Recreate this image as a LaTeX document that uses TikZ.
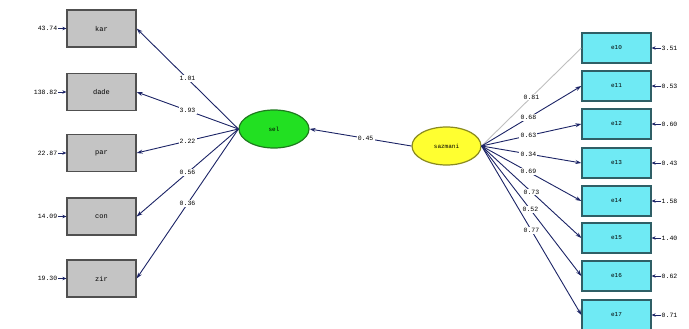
\documentclass[tikz,border=0pt]{standalone}
\usepackage{fontspec}
\setmonofont{Liberation Mono}
\usetikzlibrary{arrows.meta,shapes.geometric}
\definecolor{pathc}{HTML}{1C2466}
\definecolor{boxgrey}{HTML}{C4C4C4}
\definecolor{boxedge}{HTML}{505050}
\definecolor{cyanbox}{HTML}{6FEAF4}
\definecolor{cyanedge}{HTML}{2F5F66}
\definecolor{greenf}{HTML}{22E022}
\definecolor{greene}{HTML}{1E7A1E}
\definecolor{yellowf}{HTML}{FFFF30}
\definecolor{yellowe}{HTML}{8A8A20}
\tikzset{
  txt/.style={font=\ttfamily\fontsize{6.5}{7.5}\selectfont, inner sep=0.5pt},
  obsl/.style={draw=boxedge, fill=boxgrey, line width=1.3pt, minimum width=69pt, minimum height=37pt, font=\ttfamily\fontsize{7}{8}\selectfont},
  obsr/.style={draw=cyanedge, fill=cyanbox, line width=1.3pt, minimum width=69pt, minimum height=30pt, font=\ttfamily\fontsize{6}{7}\selectfont},
  latg/.style={ellipse, draw=greene, fill=greenf, line width=1.2pt, minimum width=70pt, minimum height=38pt, inner sep=0pt, font=\ttfamily\fontsize{6}{7}\selectfont},
  laty/.style={ellipse, draw=yellowe, fill=yellowf, line width=1.2pt, minimum width=69pt, minimum height=38pt, inner sep=0pt, font=\ttfamily\fontsize{6}{7}\selectfont},
  path/.style={draw=pathc, line width=0.9pt, -{Stealth[length=6pt,width=4pt]}},
  fadepath/.style={draw=black!25, line width=0.9pt},
  errarrow/.style={draw=pathc, line width=0.8pt, -{Stealth[length=4pt,width=3.5pt]}},
  lab/.style={txt, fill=white, inner sep=1.2pt}
}
\begin{document}
\begin{tikzpicture}[x=1pt,y=-1pt]
\useasboundingbox (0,0) rectangle (689,329);
% left observed
\node[obsl] (kar) at (101.5,28.5) {kar};
\node[obsl] (dade) at (101.5,92) {dade};
\node[obsl] (par) at (101.5,153) {par};
\node[obsl] (con) at (101.5,216.5) {con};
\node[obsl] (zir) at (101.5,278.5) {zir};
% error values left
\node[txt, anchor=east] (ekar) at (58,28.5) {43.74};
\node[txt, anchor=east] (edade) at (58,92) {138.82};
\node[txt, anchor=east] (epar) at (58,153) {22.87};
\node[txt, anchor=east] (econ) at (58,216.5) {14.09};
\node[txt, anchor=east] (ezir) at (58,278.5) {19.30};
\foreach \n in {kar,dade,par,con,zir}{\draw[errarrow] (e\n.east) -- (\n.west);}
% latents
\node[latg] (sel) at (274,129) {sel};
\node[laty] (saz) at (446.5,146) {sazmani};
\draw[path] (saz.west) -- node[lab, pos=0.45] {0.45} (sel.east);
% left loadings
\draw[path] (sel.west) -- node[lab,pos=0.5] {1.01} (kar.east);
\draw[path] (sel.west) -- node[lab,pos=0.5] {3.93} (dade.east);
\draw[path] (sel.west) -- node[lab,pos=0.5] {2.22} (par.east);
\draw[path] (sel.west) -- node[lab,pos=0.5] {0.56} (con.east);
\draw[path] (sel.west) -- node[lab,pos=0.5] {0.36} (zir.east);
% right observed
\node[obsr] (e10) at (616.5,48) {e10};
\node[obsr] (e11) at (616.5,86) {e11};
\node[obsr] (e12) at (616.5,124) {e12};
\node[obsr] (e13) at (616.5,163) {e13};
\node[obsr] (e14) at (616.5,201) {e14};
\node[obsr] (e15) at (616.5,238) {e15};
\node[obsr] (e16) at (616.5,276) {e16};
\node[obsr] (e17) at (616.5,315) {e17};
% right errors
\node[txt, anchor=west] (r10) at (661,48) {3.51};
\node[txt, anchor=west] (r11) at (661,86) {0.53};
\node[txt, anchor=west] (r12) at (661,124) {0.60};
\node[txt, anchor=west] (r13) at (661,163) {0.43};
\node[txt, anchor=west] (r14) at (661,201) {1.58};
\node[txt, anchor=west] (r15) at (661,238) {1.40};
\node[txt, anchor=west] (r16) at (661,276) {0.62};
\node[txt, anchor=west] (r17) at (661,315) {0.71};
\foreach \n in {10,11,12,13,14,15,16,17}{\draw[errarrow] (r\n.west) -- (e\n.east);}
% right loadings
\draw[fadepath] (saz.east) -- node[lab,pos=0.5] {0.81} (e10.west);
\draw[path] (saz.east) -- node[lab,pos=0.47] {0.68} (e11.west);
\draw[path] (saz.east) -- node[lab,pos=0.47] {0.63} (e12.west);
\draw[path] (saz.east) -- node[lab,pos=0.47] {0.34} (e13.west);
\draw[path] (saz.east) -- node[lab,pos=0.47] {0.69} (e14.west);
\draw[path] (saz.east) -- node[lab,pos=0.5] {0.73} (e15.west);
\draw[path] (saz.east) -- node[lab,pos=0.49] {0.52} (e16.west);
\draw[path] (saz.east) -- node[lab,pos=0.5] {0.77} (e17.west);
\end{tikzpicture}
\end{document}
